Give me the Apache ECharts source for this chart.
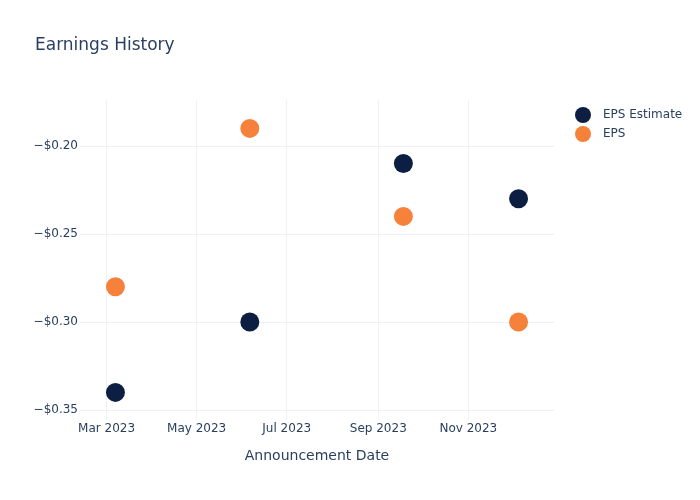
<!DOCTYPE html>
<html><head><meta charset="utf-8">
<script src="https://cdn.jsdelivr.net/npm/echarts@6/dist/echarts.min.js"></script>
<style>html,body{margin:0;padding:0;background:#fff}#c{width:700px;height:500px}</style>
</head><body><div id="c"></div>
<script>
const dates = ['2023-03-07', '2023-06-06', '2023-09-18', '2023-12-05'];
const epsEstimate = [-0.34, -0.30, -0.21, -0.23];
const eps = [-0.28, -0.19, -0.24, -0.30];
const xTicks = ['2023-03-01', '2023-05-01', '2023-07-01', '2023-09-01', '2023-11-01'];
const yTicks = [-0.35, -0.30, -0.25, -0.20];
const monthNames = ['Jan','Feb','Mar','Apr','May','Jun','Jul','Aug','Sep','Oct','Nov','Dec'];
const ts = d => Date.parse(d + 'T00:00:00Z');
const txt = '#2a3f5f';
const font = '"DejaVu Sans", Verdana, sans-serif';
const chart = echarts.init(document.getElementById('c'));
chart.setOption({
  animation: false,
  title: { text: 'Earnings History', left: 30, top: 32, textStyle: { color: txt, fontFamily: font, fontSize: 17, fontWeight: 'normal' } },
  legend: { orient: 'vertical', left: 570, top: 102, itemWidth: 16, itemHeight: 16, itemGap: 3, icon: 'circle',
    textStyle: { color: txt, fontFamily: font, fontSize: 12, padding: [0, 0, 0, 7] }, data: ['EPS Estimate', 'EPS'] },
  grid: { left: 80, right: 146, top: 100, bottom: 80 },
  xAxis: {
    type: 'value', min: ts('2023-02-11'), max: ts('2023-12-29'),
    name: 'Announcement Date', nameLocation: 'middle', nameGap: 29,
    nameTextStyle: { color: txt, fontFamily: font, fontSize: 14 },
    axisLine: { show: false }, axisTick: { show: false, customValues: xTicks.map(ts) },
    axisLabel: { customValues: xTicks.map(ts), color: txt, fontFamily: font, fontSize: 12, margin: 3,
      formatter: v => { const d = new Date(v); return monthNames[d.getUTCMonth()] + ' ' + d.getUTCFullYear(); } },
    splitLine: { show: true, lineStyle: { color: '#eef1f8', width: 1 } }
  },
  yAxis: {
    type: 'value', min: -0.35568, max: -0.17387,
    axisLine: { show: false }, axisTick: { show: false, customValues: yTicks },
    axisLabel: { customValues: yTicks, color: txt, fontFamily: font, fontSize: 12, margin: 2,
      formatter: v => '\u2212$' + Math.abs(v).toFixed(2) },
    splitLine: { show: true, lineStyle: { color: '#eef1f8', width: 1 } }
  },
  series: [
    { name: 'EPS Estimate', type: 'scatter', symbolSize: 19, itemStyle: { color: '#0c1f42', opacity: 1 },
      data: dates.map((d, i) => [ts(d), epsEstimate[i]]) },
    { name: 'EPS', type: 'scatter', symbolSize: 19, itemStyle: { color: '#f5813a', opacity: 1 },
      data: dates.map((d, i) => [ts(d), eps[i]]) }
  ]
});
</script></body></html>
